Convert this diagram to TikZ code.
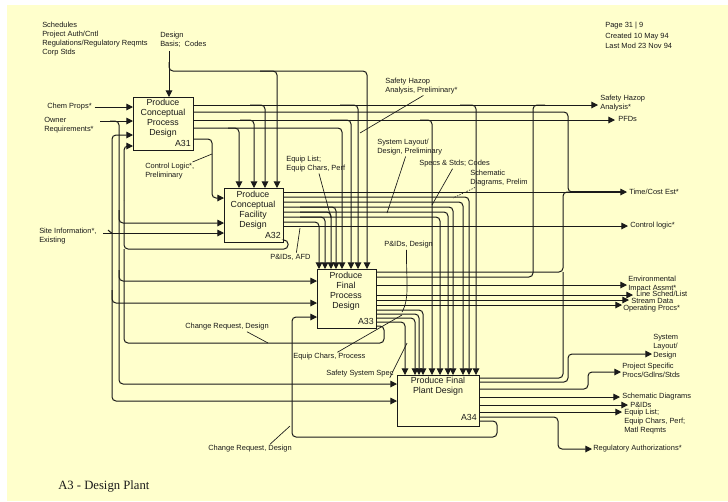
\documentclass[tikz,border=0pt]{standalone}
\usepackage{fontspec}
\setmainfont{Liberation Sans}
\newfontfamily\titlefont{Liberation Serif}
\usetikzlibrary{arrows.meta}
\definecolor{bg}{HTML}{FFFFCC}
\definecolor{ink}{HTML}{1A1A1A}
\begin{document}
\begin{tikzpicture}[x=0.75pt,y=-0.75pt,
  wire/.style={draw=ink, line width=0.75pt, rounded corners=3pt},
  arr/.style={wire, -{Triangle[length=5pt,width=5pt]}},
  box/.style={draw=ink, line width=0.8pt, anchor=north west, inner sep=0pt},
  lbl/.style={font=\fontsize{5.6}{6.75}\selectfont, inner sep=0pt, anchor=north west, align=left, text=ink},
  lblw/.style={lbl, anchor=west},
  btxt/.style={font=\fontsize{6.6}{7.5}\selectfont, inner sep=0pt, align=center, text=ink},
  bnum/.style={font=\fontsize{6.6}{7.5}\selectfont, inner sep=0pt, anchor=east, text=ink},
  leader/.style={draw=ink, line width=0.5pt}]
\useasboundingbox (0,0) rectangle (728,501);
\fill[white] (0,0) rectangle (728,501);
\fill[bg] (7,5) rectangle (728,501);

% ---------- boxes ----------
\node[box, minimum width=45pt, minimum height=39.75pt] (A31) at (133,97) {};
\node[box, minimum width=44.25pt, minimum height=40.5pt] (A32) at (224,188) {};
\node[box, minimum width=44.25pt, minimum height=44.25pt] (A33) at (317,269) {};
\node[box, minimum width=61.5pt, minimum height=38.25pt] (A34) at (397,375) {};

\node[btxt] (t31) at (163,118.5) {Produce\\Conceptual\\Process\\Design};
\node[bnum] (n31) at (191,143) {A31};
\node[btxt] (t32) at (253,210) {Produce\\Conceptual\\Facility\\Design};
\node[bnum] (n32) at (281,235) {A32};
\node[btxt] (t33) at (346,291.5) {Produce\\Final\\Process\\Design};
\node[bnum] (n33) at (374,321) {A33};
\node[btxt] (t34) at (438,386.5) {Produce Final\\Plant Design};
\node[bnum] (n34) at (477,417) {A34};

% ---------- labels ----------
\node[lbl] (sched) at (42,22) {Schedules\\Project Auth/Cntl\\Regulations/Regulatory Reqmts\\Corp Stds};
\node[lbl] (dbc) at (160,32) {Design\\Basis;\ \ Codes};
\node[lbl] (page) at (605,22) {Page 31 | 9\\[1pt]Created 10 May 94\\[1pt]Last Mod 23 Nov 94};
\node[lblw] (chem) at (47,107) {Chem Props*};
\node[lbl] (owner) at (44,117) {Owner\\Requirements*};
\node[lbl] (site) at (39,228) {Site Information*,\\Existing};
\node[lbl] (cl) at (145,163) {Control Logic*,\\Preliminary};
\node[lbl] (eq) at (286,156) {Equip List;\\Equip Chars, Perf};
\node[lbl] (sh) at (385,78) {Safety Hazop\\Analysis, Preliminary*};
\node[lbl] (sl) at (377,139) {System Layout/\\Design, Preliminary};
\node[lblw] (ss) at (419,164) {Specs \& Stds; Codes};
\node[lbl] (sd) at (470,170) {Schematic\\Diagrams, Prelim};
\node[lblw] (pa) at (270,257) {P\&IDs, AFD};
\node[lblw] (pd) at (384,245) {P\&IDs, Design};
\node[lblw] (cr1) at (185,327) {Change Request, Design};
\node[lblw] (ec) at (293,357) {Equip Chars, Process};
\node[lblw] (sss) at (326,374) {Safety System Spec};
\node[lblw] (cr2) at (208,449) {Change Request, Design};
\node[anchor=west, inner sep=0pt, font=\titlefont\fontsize{9.5}{11}\selectfont, text=ink] (title) at (58,486) {A3 - Design Plant};

\node[lbl] (rsh) at (600,95) {Safety Hazop\\Analysis*};
\node[lblw] (rpfd) at (618,119) {PFDs};
\node[lblw] (rtc) at (629,192) {Time/Cost Est*};
\node[lblw] (rcl) at (630,226) {Control logic*};
\node[lbl] (renv) at (628,276) {Environmental\\Impact Assmt*};
\node[lblw] (rls) at (636,294) {Line Sched/List};
\node[lblw] (rsd) at (631,301) {Stream Data};
\node[lblw] (rop) at (623,308.5) {Operating Procs*};
\node[lbl] (rsys) at (653,334) {System\\Layout/\\Design};
\node[lbl] (rps) at (622,363) {Project Specific\\Procs/Gdlns/Stds};
\node[lblw] (rsch) at (622,397) {Schematic Diagrams};
\node[lblw] (rpid) at (630,405) {P\&IDs};
\node[lbl] (req) at (624,409) {Equip List;\\Equip Chars, Perf;\\Matl Reqmts};
\node[lblw] (rra) at (593,449) {Regulatory Authorizations*};

% ---------- controls from top ----------
\draw[arr] (dbc.south west -| 169,0) ++(0,3) -- (A31.north -| 169,0);
\draw[arr] (169,62) |- (367,71) -- (A33.north -| 367,0);
\draw[arr] (260,71) -| (A32.north -| 277,0);

% ---------- A31 outputs ----------
\draw[arr] (A31.east |- 0,105) -- (598,105);
\draw[arr] (250,105) -| (A32.north -| 265,0);
\draw[arr] (340,105) -| (A33.north -| 358,0);
\draw[arr] (460,105) -| (A34.north -| 476,0);
\draw[wire] (A31.east |- 0,112) -| (568,192) -- (580,192);
\draw[arr] (A31.east |- 0,120) -- (615,120);
\draw[arr] (240,120) -| (A32.north -| 254,0);
\draw[arr] (330,120) -| (A33.north -| 351,0);
\draw[arr] (420,120) -| (A34.north -| 432,0);
\draw[arr] (A31.east |- 0,128) -| (A33.north -| 342,0);
\draw[arr] (228,128) -| (A32.north -| 239,0);
\draw[arr] (A31.east |- 0,139) -| (212,170) |- (A32.west |- 0,198);

% ---------- A31 inputs & left verticals ----------
\draw[arr, shorten <=2pt] (chem.east) -- (A31.west |- chem.east);
\draw[arr] (100,121) -- (A31.west |- 0,121);
\draw[arr] (110,121) -| (119,300) |- (A34.west |- 0,384);
\draw[arr] (119,210) |- (A32.west |- 0,223);
\draw[arr] (119,270) |- (A33.west |- 0,281);
\draw[arr] (103,233) -- (A32.west |- 0,233);
\draw[arr] (112,233) |- (A31.west |- 0,135);
\draw[arr] (112,233) |- (A34.west |- 0,401);
\draw[arr] (112,290) |- (A33.west |- 0,303);
\draw[wire] (108,230) .. controls (110,231) and (110,233) .. (112,233);
\draw[arr] (124,200) |- (A31.west |- 0,146);
\draw[wire] (124,200) |- (288,249) |- (A32.east |- 0,240);
\draw[wire] (A33.east |- 0,326) -| (384,343) -| (124,249);

% ---------- A32 outputs ----------
\draw[arr] (A32.east |- 0,192) -- (627,192);
\draw[line width=1.6pt, draw=ink] (570,192) -- (622,192);
\draw[arr] (A32.east |- 0,197) -| (A34.north -| 469,0);
\draw[arr] (A32.east |- 0,202) -| (A34.north -| 463,0);
\draw[arr] (A32.east |- 0,207) -| (A34.north -| 453,0);
\draw[arr] (300,207) -| (A33.north -| 336,0);
\draw[arr] (A32.east |- 0,212) -| (A34.north -| 448,0);
\draw[arr] (300,212) -| (A33.north -| 331,0);
\draw[arr] (A32.east |- 0,217) -| (A34.north -| 440,0);
\draw[arr] (300,217) -| (A33.north -| 325,0);
\draw[arr] (A32.east |- 0,222) -| (A33.north -| 319,0);
\draw[arr] (A32.east |- 0,226) -- (628,226);

% ---------- A33 ----------
\draw[arr] (A34.east |- 0,421) -| (497,437) -| (292,330) |- (A33.west |- 0,317);
\draw[wire] (A33.east |- 0,272) -| (563,192) -- (575,192);
\draw[wire] (A34.east |- 0,378) -| (563,272);
\draw[wire] (A33.east |- 0,277) -| (533,105) -- (545,105);
\draw[arr] (A33.east |- 0,285) -- (627,285);
\draw[arr] (A33.east |- 0,295) -- (633,295);
\draw[arr] (A33.east |- 0,300) -- (629,300);
\draw[arr] (A33.east |- 0,305) -- (622,305);
\draw[arr] (A33.east |- 0,310) -| (A34.north -| 423,0);
\draw[arr] (A33.east |- 0,314) -| (A34.north -| 419,0);
\draw[arr] (A33.east |- 0,318) -| (A34.north -| 415,0);
\draw[arr] (A33.east |- 0,322) -| (A34.north -| 405,0);

% ---------- A34 outputs ----------
\draw[arr] (A34.east |- 0,382) -| (568,354) -- (652,354);
\draw[arr] (A34.east |- 0,389) -| (588,372) -- (621,372);
\draw[arr] (A34.east |- 0,397) -- (620,397);
\draw[arr] (A34.east |- 0,405) -- (628,405);
\draw[arr] (A34.east |- 0,412) -- (622,412);
\draw[arr] (A34.east |- 0,417) -| (558,449) -- (592,449);

% ---------- leaders ----------
\draw[leader] (cl.north east) ++(-2,-1) -- (212,154);
\draw[leader] (eq.south west) ++(33,1) -- (331,218);
\draw[leader] (sh.south) ++(2,1) -- (360,133);
\draw[leader] (sl.south) ++(-4,1) -- (387,213);
\draw[leader] (ss.south) ++(-2,1) -- (432,205);
\draw[leader, dash pattern=on 1pt off 1pt] (sd.south west) ++(5,1) -- (453,198);
\draw[leader] (pa.north) ++(6,-1) -- (300,228);
\draw[leader] (pd.south) ++(-2,1) .. controls (406,280) and (410,298) .. (402,312);
\draw[leader] (ec.north) ++(8,-1) -- (402,315);
\draw[leader] (sss.south east) ++(-4,0) -- (407,343);
\draw[leader] (cr1.south) ++(20,1) -- (268,343);
\draw[leader] (cr2.north) ++(20,-1) -- (290,426);
\end{tikzpicture}
\end{document}
